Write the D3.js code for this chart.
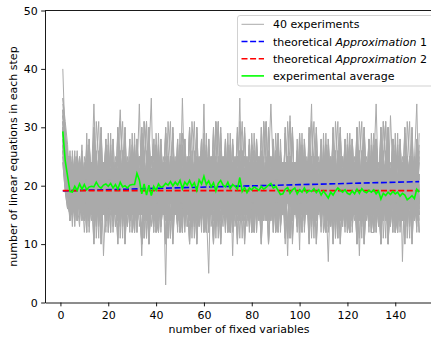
<!DOCTYPE html>
<html>
<head>
<meta charset="utf-8">
<script src="https://cdn.jsdelivr.net/npm/d3@7"></script>
<style>
  body { margin: 0; background: #fff; }
  svg text { font-family: "DejaVu Sans", sans-serif; }
</style>
</head>
<body>
<div id="chart"></div>
<script>
// tick labels
const xTicks = [0, 20, 40, 60, 80, 100, 120, 140];
const yTicks = [0, 10, 20, 30, 40, 50];

// theoretical curves (step, value)
const approx1Steps = [1, 25, 50, 75, 100, 125, 150];
const approx1Values = [19.12, 19.38, 19.65, 19.92, 20.18, 20.44, 20.7];
const approx2Steps = [1, 150];
const approx2Values = [19.15, 19.15];

// experimental average, steps 1..150
const averageValues = [
  29.3, 24.3, 21.6, 19.0, 18.9, 19.9, 19.2, 20.3, 19.4, 20.2,
  19.3, 19.8, 19.9, 19.8, 20.6, 19.9, 19.6, 20.1, 20.3, 19.9,
  20.4, 19.6, 20.2, 19.4, 20.6, 19.8, 20.0, 19.6, 20.1, 20.2,
  20.2, 22.1, 21.0, 18.6, 20.3, 18.4, 20.1, 18.3, 19.9, 19.2,
  20.3, 19.7, 19.9, 20.4, 20.1, 20.7, 20.0, 20.6, 20.1, 20.9,
  19.5, 20.6, 20.1, 20.9, 19.9, 20.5, 19.2, 21.0, 20.3, 21.6,
  20.2, 20.8, 19.8, 20.5, 19.1, 20.4, 20.9, 20.1, 19.8, 20.6,
  19.5, 20.2, 19.9, 19.4, 21.4, 19.0, 19.7, 18.8, 19.6, 19.3,
  19.8, 19.5, 19.2, 19.9, 19.4, 19.7, 20.1, 20.4, 19.6, 19.9,
  19.2, 18.5, 18.6, 19.4, 19.7, 18.7, 19.3, 19.6, 18.6, 19.3,
  18.9, 19.6, 18.8, 19.2, 19.0, 19.5, 18.8, 19.3, 18.4, 19.1,
  18.5, 17.9, 18.9, 18.4, 19.1, 19.6, 19.2, 18.9, 19.3, 18.7,
  18.5, 19.1, 18.6, 19.4, 18.7, 19.5, 19.0, 18.8, 19.2, 18.9,
  19.3, 18.6, 19.1, 17.7, 18.7, 18.3, 18.9, 18.5, 19.0, 18.6,
  18.9, 18.2, 18.7, 18.4, 17.6, 17.9, 18.3, 17.8, 19.4, 18.9
];

// 40 experiments, steps 1..150
const experiments = [
  [40,27,22,21,25,18,14,22,20,17, 22,17,20,24,15,19,26,18,21,16, 29,16,22,11,20,18,30,15,24,12, 24,18,21,15,19,23,17,20,27,16, 18,14,22,19,24,17,21,16,23,20, 21,25,17,20,13,22,18,24,19,15, 27,14,20,23,11,21,29,17,13,25, 23,16,19,22,18,26,15,21,17,20, 20,22,15,18,24,21,16,23,19,12, 15,19,24,17,22,20,18,16,25,21, 12,24,19,30,14,22,10,20,28,17, 18,24,21,14,20,17,23,19,22,16, 25,17,19,22,18,15,21,24,16,20, 15,28,18,10,24,31,16,21,12,26, 21,15,18,24,17,20,22,19,26,14],
  [35,30,24,21,15,18,25,20,16,22, 15,28,18,10,24,31,16,21,12,26, 20,17,22,16,23,19,14,21,24,18, 23,19,16,20,18,22,24,17,15,21, 17,22,20,15,25,18,21,16,23,19, 12,24,19,30,14,22,10,20,28,17, 22,17,20,24,15,19,26,18,21,16, 16,21,18,23,20,14,22,25,17,19, 24,18,21,15,19,23,17,20,27,16, 29,16,22,11,20,18,30,15,24,12, 21,25,17,20,13,22,18,24,19,15, 17,20,23,16,21,19,25,14,18,22, 27,14,20,23,11,21,29,17,13,25, 20,22,15,18,24,21,16,23,19,12, 15,19,24,17,22,20,18,16,25,21],
  [33,25,20,25,16,23,19,21,14,17, 18,24,21,34,20,17,23,19,22,16, 25,17,19,22,18,15,21,24,16,20, 16,20,23,19,21,24,17,13,22,18, 27,14,20,23,11,21,29,17,13,25, 19,23,17,21,15,18,25,20,16,22, 14,21,25,18,22,16,20,23,19,17, 29,16,22,11,20,18,30,15,24,12, 23,19,16,20,18,22,24,17,15,21, 17,22,20,15,25,18,21,16,23,19, 19,23,16,21,25,18,14,22,20,17, 15,28,18,10,24,31,16,21,12,26, 16,21,18,23,20,14,22,25,17,19, 24,18,21,15,19,23,17,20,27,16, 12,24,19,30,14,22,10,20,28,17],
  [31,22,19,20,13,22,18,24,19,15, 17,20,23,16,21,19,25,8,18,22, 23,16,19,22,18,26,15,21,17,20, 12,24,19,30,14,22,10,20,28,17, 15,19,24,17,22,20,18,16,25,21, 22,18,20,25,16,23,19,21,14,17, 18,24,21,14,20,17,23,19,22,16, 25,17,19,22,18,15,21,24,16,20, 15,28,18,10,24,31,16,21,12,26, 21,15,18,24,17,20,22,19,26,14, 19,23,17,21,15,18,25,20,16,22, 14,21,25,18,22,16,20,23,19,17, 29,16,22,11,20,18,30,15,24,12, 23,19,16,20,18,22,24,17,15,21, 17,22,20,15,25,18,21,16,23,19],
  [28,26,23,24,15,19,26,18,21,16, 24,18,21,15,19,23,17,20,27,16, 27,14,20,23,11,21,29,17,13,25, 23,16,19,22,18,26,15,21,17,20, 15,19,24,17,22,20,18,16,25,21, 18,24,21,14,20,17,23,19,22,16, 12,24,19,30,14,22,10,20,28,17, 19,23,17,21,15,18,25,20,16,22, 20,17,22,16,23,19,14,21,24,18, 17,22,20,15,25,18,21,16,23,19, 15,28,18,10,24,31,16,21,12,26, 16,21,18,23,20,14,22,25,17,19, 18,14,22,19,24,17,21,16,23,20, 29,16,22,11,20,18,30,15,24,12, 20,22,15,18,24,21,16,23,19,12],
  [30,24,21,24,17,20,22,19,26,14, 29,16,22,11,20,18,30,15,24,12, 22,18,20,25,33,23,19,21,14,17, 14,21,25,18,22,16,20,23,19,17, 23,19,16,20,18,22,24,17,15,21, 15,28,18,10,24,31,16,21,12,26, 16,21,18,23,20,14,22,25,17,19, 18,14,22,19,24,17,21,16,23,20, 17,20,23,16,21,19,25,14,18,22, 27,14,20,23,11,21,29,17,13,25, 18,24,21,14,20,17,23,19,22,16, 16,20,23,19,21,24,17,13,22,18, 12,24,19,30,14,22,10,20,28,17, 20,17,22,16,23,19,14,21,24,18, 17,22,20,15,25,18,21,16,23,19],
  [27,21,18,23,20,14,22,25,17,19, 21,25,17,20,13,22,18,24,19,15, 15,28,18,10,24,31,16,21,12,26, 18,24,21,8,20,17,23,19,22,16, 21,15,18,24,17,20,22,19,26,14, 20,17,22,16,23,19,14,21,24,18, 19,23,16,21,25,18,14,22,20,17, 12,24,19,30,14,22,10,20,28,17, 17,20,23,16,21,19,25,14,18,22, 15,19,24,17,22,20,18,16,25,21, 25,17,19,22,18,15,21,24,16,20, 27,14,20,23,11,21,29,17,13,25, 23,19,16,20,18,22,24,17,15,21, 22,17,20,24,15,19,26,18,21,16, 18,14,22,19,24,17,21,16,23,20],
  [32,28,25,22,18,26,15,21,17,20, 27,14,20,23,11,21,29,17,13,25, 16,20,23,19,21,24,17,13,22,18, 14,21,34,18,22,16,20,23,19,17, 17,22,20,15,25,18,21,16,23,19, 29,16,22,11,20,18,30,15,24,12, 21,25,17,20,13,22,18,24,19,15, 20,22,15,18,24,21,16,23,19,12, 18,24,21,14,20,17,23,34,22,16, 21,15,18,24,17,20,22,19,26,14, 20,17,22,16,23,19,14,21,24,18, 12,24,19,30,14,22,10,20,28,17, 15,28,18,10,24,31,16,21,12,26, 17,20,23,16,21,19,25,14,18,22, 15,19,24,17,22,20,18,16,25,21],
  [26,23,20,22,18,15,21,24,16,20, 19,23,17,21,15,18,25,20,16,22, 12,24,19,30,14,22,10,20,28,17, 22,17,20,24,15,19,26,18,21,16, 18,14,22,3,24,17,21,16,23,20, 23,16,19,22,18,26,15,21,17,20, 22,18,20,25,16,23,19,21,14,17, 27,14,20,23,11,21,29,17,13,25, 14,21,25,18,22,16,20,23,19,17, 17,22,20,15,25,18,21,16,23,19, 24,18,21,15,19,23,17,20,27,16, 29,16,22,11,20,18,30,15,24,12, 15,19,24,17,22,20,18,16,25,21, 19,23,16,21,25,18,14,22,20,17, 16,21,18,23,20,14,22,25,17,19],
  [29,25,22,16,23,19,14,21,24,18, 23,19,16,20,18,22,24,17,15,21, 17,22,20,15,25,18,21,16,23,19, 19,23,17,21,15,18,25,35,16,22, 15,28,18,10,24,31,16,21,12,26, 16,20,23,19,21,24,17,13,22,18, 21,15,18,24,17,20,22,19,26,14, 18,24,21,14,20,17,23,19,22,16, 29,16,22,11,20,18,30,15,24,12, 15,19,24,17,22,20,18,16,25,21, 27,14,20,23,11,21,29,17,13,25, 23,16,19,22,18,26,15,21,17,20, 20,22,15,18,24,21,16,23,19,12, 12,24,19,30,14,22,10,20,28,17, 17,20,23,16,21,19,25,14,18,22],
  [34,29,26,19,24,17,21,16,23,20, 24,18,21,15,19,23,17,20,27,16, 16,21,18,23,20,14,22,25,17,19, 27,14,20,23,11,21,29,17,13,25, 19,23,16,21,25,18,14,22,20,17, 35,19,24,17,22,20,18,16,25,21, 20,22,15,18,24,21,16,23,19,12, 23,16,19,22,18,26,15,21,17,20, 15,28,18,10,24,31,16,21,12,26, 21,25,17,20,13,22,18,24,19,15, 29,16,22,11,20,18,30,15,24,12, 16,20,23,19,21,24,17,13,22,18, 21,15,18,24,17,20,22,19,26,14, 18,24,21,14,20,17,23,19,22,16, 22,18,20,25,16,23,19,21,14,17],
  [25,20,17,15,25,18,21,16,23,19, 12,24,19,30,14,22,10,20,28,17, 20,17,22,16,23,19,14,21,24,18, 14,21,25,18,22,16,20,23,19,17, 29,16,22,11,20,18,30,15,24,12, 21,15,18,24,17,20,22,19,26,14, 16,5,23,19,21,24,17,13,22,18, 25,17,19,22,18,15,21,24,16,20, 18,24,21,14,20,17,23,19,22,16, 15,28,18,10,24,31,16,21,12,26, 15,19,24,17,22,20,18,16,25,21, 20,22,15,18,24,21,16,23,19,12, 23,16,19,22,18,26,15,21,17,20, 27,14,20,23,11,21,29,17,13,25, 21,25,17,20,13,22,18,24,19,15],
  [30,24,21,16,21,19,25,14,18,22, 19,23,16,21,25,18,14,22,20,17, 23,16,19,22,18,26,15,21,17,20, 15,28,18,10,24,31,16,21,12,26, 20,22,15,18,24,21,16,23,19,12, 16,21,18,23,20,14,22,25,17,34, 15,19,24,17,22,20,18,16,25,21, 24,18,21,15,19,23,17,20,27,16, 12,24,19,30,14,22,10,20,28,17, 18,14,22,19,24,17,21,16,23,20, 18,24,21,14,20,17,23,19,22,16, 21,25,17,20,13,22,18,24,19,15, 25,17,19,22,18,15,21,24,16,20, 16,20,23,19,21,24,17,13,22,18, 29,16,22,11,20,18,30,15,24,12],
  [28,22,19,18,22,16,20,23,19,17, 20,17,22,16,23,19,14,21,24,18, 19,23,17,21,15,18,25,20,16,22, 27,14,20,23,11,21,29,17,13,25, 23,19,16,20,18,22,24,17,15,21, 12,24,19,30,14,22,10,20,28,17, 19,23,16,21,25,18,14,22,20,17, 24,8,21,15,19,23,17,20,27,16, 16,21,18,23,20,14,22,25,17,19, 21,25,17,20,13,22,18,24,19,15, 18,14,22,19,24,17,21,16,23,20, 23,16,19,22,18,26,15,21,17,20, 17,20,23,16,21,19,25,14,18,22, 15,19,24,17,22,20,18,16,25,21, 15,28,18,10,24,31,16,21,12,26],
  [31,27,24,14,20,17,23,19,22,16, 22,18,20,25,16,23,19,21,14,17, 16,20,23,19,21,24,17,13,22,18, 15,28,18,10,24,31,16,21,12,26, 19,23,17,21,15,18,25,20,16,22, 21,15,18,24,17,20,22,19,26,14, 20,17,22,16,23,19,14,21,24,18, 14,21,25,18,35,16,20,23,19,17, 17,22,20,15,25,18,21,16,23,19, 27,14,20,23,11,21,29,17,13,25, 18,14,22,19,24,17,21,16,23,20, 24,18,21,15,19,23,17,20,27,16, 12,24,19,30,14,22,10,20,28,17, 22,17,20,24,15,19,26,18,21,16, 19,23,16,21,25,18,14,22,20,17],
  [27,23,20,15,19,23,17,20,27,16, 23,16,19,22,18,26,15,21,17,20, 18,24,21,14,20,17,23,19,22,16, 29,16,22,11,20,18,30,15,24,12, 17,22,20,15,25,18,21,16,23,19, 16,21,18,23,20,14,22,25,17,19, 15,28,18,10,24,31,16,21,12,26, 22,18,20,25,16,23,19,21,14,17, 21,15,18,24,17,20,22,19,26,14, 23,19,16,20,8,22,24,17,15,21, 22,17,20,24,15,19,26,18,21,16, 27,14,20,23,11,21,29,17,13,25, 15,19,24,17,22,20,18,16,25,21, 16,20,23,19,21,24,17,13,22,18, 20,17,22,16,23,19,14,21,24,18],
  [33,26,23,18,24,21,16,23,19,12, 18,14,22,19,24,17,21,16,23,20, 19,23,16,21,25,18,14,22,20,17, 14,21,25,18,22,16,20,23,19,17, 12,24,19,30,14,22,10,20,28,17, 21,25,17,20,13,22,18,24,19,15, 29,16,22,11,20,18,30,15,24,12, 16,20,23,19,21,24,17,13,22,18, 22,17,20,24,15,19,26,18,21,16, 15,19,24,17,22,20,18,16,25,21, 16,21,18,23,34,14,22,25,17,19, 21,15,18,24,17,20,22,19,26,14, 22,18,20,25,16,23,19,21,14,17, 15,28,18,10,24,31,16,21,12,26, 17,20,23,16,21,19,25,14,18,22],
  [24,19,16,19,21,24,17,13,22,18, 15,19,24,17,22,20,18,16,25,21, 21,25,17,20,13,22,18,24,19,15, 22,17,20,24,15,19,26,18,21,16, 27,14,20,23,11,21,29,17,13,25, 21,15,18,24,17,20,22,19,26,14, 15,28,18,10,24,31,16,21,12,26, 17,20,23,16,21,19,25,14,18,22, 16,21,18,23,20,14,22,25,17,19, 29,16,22,11,20,18,30,15,24,12, 19,23,17,21,15,18,25,20,16,22, 18,7,21,14,20,17,23,19,22,16, 23,16,19,22,18,26,15,21,17,20, 12,24,19,30,14,22,10,20,28,17, 17,22,20,15,25,18,21,16,23,19],
  [29,25,22,20,18,22,24,17,15,21, 21,15,18,24,17,20,22,19,26,14, 22,18,20,25,16,23,19,21,14,17, 12,24,19,30,14,22,10,20,28,17, 16,21,18,23,20,14,22,25,17,19, 27,14,20,23,11,21,29,17,13,25, 25,17,19,22,18,15,21,24,16,20, 20,22,15,18,24,21,16,23,19,12, 18,14,22,19,24,17,21,16,23,20, 19,23,16,21,25,18,14,22,20,17, 17,22,20,15,25,18,21,16,23,19, 19,23,17,21,15,18,25,20,16,22, 18,24,21,14,20,17,23,19,22,16, 23,34,19,22,18,26,15,21,17,20, 24,18,21,15,19,23,17,20,27,16],
  [30,24,21,17,22,20,18,16,25,21, 17,22,20,15,25,18,21,16,23,19, 18,14,22,19,24,17,21,16,23,20, 21,15,18,24,17,20,22,19,26,14, 24,18,21,15,19,23,17,20,27,16, 16,20,23,19,21,24,17,13,22,18, 16,21,18,23,20,14,22,25,17,19, 15,28,18,10,24,31,16,21,12,26, 25,17,19,22,18,15,21,24,16,20, 18,24,21,14,20,17,23,19,22,16, 19,23,16,21,25,18,14,22,20,17, 22,18,20,25,16,23,19,21,14,17, 21,25,17,20,8,22,18,24,19,15, 19,23,17,21,15,18,25,20,16,22, 27,14,20,23,11,21,29,17,13,25],
  [26,21,18,14,18,25,21,16,23,19, 16,21,18,26,19,15,24,20,17,22, 12,24,15,30,18,20,11,22,16,29, 16,27,20,17,23,19,15,21,18,24, 20,23,16,21,17,24,19,22,14,18, 15,19,24,18,22,13,20,17,25,21, 25,13,17,29,21,11,23,20,14,27, 20,17,21,15,26,18,22,19,16,23, 12,19,23,16,21,24,18,15,22,20, 21,25,16,18,20,22,17,24,19,15, 17,28,20,10,22,14,30,19,24,12, 16,22,19,23,17,20,14,21,24,18, 20,16,24,21,15,18,22,19,17,25, 26,12,21,16,31,24,10,18,28,15, 14,26,7,22,20,17,24,18,15,21],
  [32,28,25,25,18,15,21,17,23,19, 26,12,21,16,31,24,10,18,28,15, 18,24,21,14,19,23,16,22,17,20, 21,15,17,24,22,18,20,16,19,23, 19,23,16,21,18,25,15,20,22,17, 17,28,20,10,22,14,30,19,24,12, 16,21,18,26,19,15,24,20,17,22, 19,17,25,22,14,20,23,18,21,16, 16,27,20,17,23,19,15,21,18,24, 12,24,15,30,18,20,11,22,16,29, 15,19,24,18,22,13,20,17,25,21, 22,18,14,25,19,21,16,23,20,17, 25,13,17,29,21,11,23,20,14,27, 12,19,23,16,21,24,18,32,22,20, 21,25,16,18,20,22,17,24,34,15],
  [28,23,20,19,23,16,25,20,18,22, 16,22,19,23,17,20,14,21,24,18, 20,16,24,21,15,18,22,19,17,25, 18,22,13,17,24,21,19,23,20,16, 25,13,17,29,21,11,23,20,14,27, 22,16,20,25,18,15,21,17,23,19, 17,19,23,20,16,22,18,25,21,14, 12,24,15,30,18,20,11,22,16,29, 21,15,17,24,22,18,20,16,19,23, 19,23,16,21,18,25,15,20,22,17, 17,20,22,14,18,25,21,16,23,19, 26,12,21,16,31,24,10,18,28,15, 19,17,25,22,14,20,23,18,21,16, 16,27,20,17,23,19,15,21,18,24, 17,28,20,10,22,14,30,19,24,12],
  [35,31,27,18,22,13,20,17,25,21, 22,18,14,25,19,21,16,23,20,17, 20,17,21,15,26,18,22,19,16,23, 17,28,20,10,22,14,30,19,24,12, 21,25,16,18,20,22,17,24,19,15, 17,14,21,19,23,16,25,20,18,22, 16,22,19,23,17,20,14,21,24,18, 20,16,24,21,15,18,22,19,17,25, 26,12,21,16,31,24,10,18,28,15, 14,26,19,22,20,17,24,18,15,21, 22,16,20,25,18,15,21,17,23,19, 17,19,23,20,16,22,18,25,21,14, 12,24,15,30,18,20,11,22,16,29, 21,15,17,24,22,18,20,16,19,23, 19,23,16,21,18,25,15,20,22,17],
  [27,22,19,26,19,15,24,20,17,22, 16,27,20,17,23,19,15,21,18,24, 25,13,17,29,21,11,23,20,14,27, 20,17,21,15,26,18,22,19,16,23, 21,25,16,18,20,22,17,24,19,15, 16,22,19,23,17,20,14,21,24,18, 17,28,20,10,22,14,30,19,24,12, 22,16,20,25,18,15,21,17,23,19, 18,24,21,14,19,23,16,22,17,20, 19,23,16,21,18,25,15,20,22,9, 26,12,21,16,31,24,10,18,28,15, 19,17,25,22,14,20,23,18,21,16, 20,23,16,21,17,24,19,22,14,18, 12,24,15,30,18,20,11,22,16,29, 12,19,23,16,21,24,18,15,22,20],
  [29,24,21,22,20,17,24,18,15,21, 12,24,15,30,18,20,11,22,16,29, 17,14,21,19,23,16,25,20,18,22, 17,19,23,20,16,22,18,25,21,14, 21,15,17,24,22,18,20,16,19,23, 26,12,21,16,31,24,10,18,28,15, 19,17,25,22,14,20,23,18,21,16, 20,23,16,21,17,24,19,22,14,18, 22,18,14,25,19,21,16,23,20,17, 25,13,17,29,21,11,23,20,14,27, 16,22,19,23,17,20,14,21,24,18, 18,22,13,17,24,21,19,23,20,16, 17,28,20,10,22,14,30,19,24,12, 18,24,21,14,19,23,16,22,17,20, 19,23,16,21,18,25,15,20,22,17],
  [31,26,23,22,14,20,23,18,21,16, 15,19,24,18,22,13,20,17,25,21, 26,12,21,16,31,24,10,18,28,15, 16,22,19,23,17,20,14,21,24,18, 14,26,19,22,20,17,24,18,15,21, 18,24,21,14,19,23,16,22,17,20, 17,20,22,14,18,25,21,16,23,19, 17,28,20,10,22,14,30,19,24,12, 22,18,14,25,19,21,16,23,20,17, 21,25,16,18,20,22,17,24,19,15, 20,16,24,21,15,18,22,19,17,25, 25,13,17,29,21,11,23,20,14,27, 21,15,17,24,22,18,20,16,19,23, 16,21,18,26,19,15,24,20,17,22, 20,23,16,21,17,24,19,22,14,18],
  [25,20,17,15,26,18,22,19,16,23, 25,13,17,29,21,11,23,20,14,27, 18,22,13,17,24,21,19,23,20,16, 17,19,23,20,16,22,18,25,21,14, 19,23,16,21,18,25,15,20,22,17, 12,24,15,30,18,20,11,22,16,29, 15,19,24,18,22,13,20,17,25,21, 12,19,23,16,21,24,18,15,22,20, 16,22,19,23,17,20,14,21,24,18, 14,26,19,22,20,17,24,18,15,21, 18,24,21,14,19,23,16,22,17,20, 17,28,20,10,22,14,30,19,24,12, 26,12,21,16,31,24,10,18,28,15, 22,18,14,25,19,21,16,23,20,17, 21,25,16,18,20,22,17,24,19,15],
  [30,25,22,21,15,18,22,19,17,25, 22,16,20,25,18,15,21,17,23,19, 17,28,20,10,22,14,30,19,24,12, 16,21,18,26,19,15,24,20,17,22, 20,23,16,21,17,24,19,22,14,18, 20,17,21,15,26,18,22,19,16,23, 17,14,21,19,23,16,25,20,18,22, 25,13,17,29,21,11,23,20,14,27, 17,19,23,20,16,22,18,25,21,14, 19,23,16,21,18,25,15,20,22,17, 16,27,20,17,23,19,15,21,18,24, 12,24,15,30,18,20,11,22,16,29, 21,25,16,18,20,22,17,24,19,15, 17,20,22,14,18,25,21,16,23,19, 19,17,25,22,14,20,23,18,21,16],
  [28,23,20,14,19,23,16,22,17,20, 21,15,17,24,22,18,20,16,19,23, 19,23,16,21,18,25,15,20,22,17, 22,16,20,25,18,15,21,17,23,19, 26,12,21,16,31,24,10,18,28,15, 18,22,13,17,24,21,19,23,20,16, 14,26,19,22,20,17,24,18,15,21, 16,22,19,23,17,20,14,21,24,18, 12,24,15,30,18,20,11,22,16,29, 21,25,16,18,20,22,17,24,19,15, 25,13,17,29,21,11,23,20,14,27, 20,17,21,15,26,18,22,19,16,23, 12,19,23,16,21,24,18,15,22,20, 17,28,20,10,22,14,30,19,24,12, 22,18,14,25,19,21,16,23,20,17],
  [33,27,24,21,17,24,19,22,14,18, 16,27,20,17,23,19,15,21,18,24, 19,17,25,22,14,20,23,18,21,16, 25,13,17,29,21,11,23,20,14,27, 17,20,22,14,18,25,21,16,23,19, 21,25,16,18,20,22,17,24,19,15, 12,19,23,16,21,24,18,15,22,20, 20,17,21,15,26,18,22,19,16,23, 26,12,21,16,31,24,10,18,28,15, 15,19,24,18,22,32,20,17,25,21, 12,24,15,30,18,20,11,22,16,29, 18,22,13,17,24,21,19,23,20,16, 14,26,19,22,20,17,24,18,15,21, 16,22,19,23,17,20,14,21,24,18, 17,14,21,19,23,16,25,20,18,22],
  [26,21,18,21,18,25,15,20,22,17, 17,28,20,10,22,14,30,19,24,12, 18,24,21,14,19,23,16,22,17,20, 17,19,23,20,16,22,18,25,21,14, 12,24,15,30,18,20,11,22,16,29, 14,26,19,22,20,17,24,18,15,21, 18,22,13,17,24,21,19,23,20,16, 20,16,24,21,15,18,22,19,17,25, 16,22,19,23,17,20,14,21,24,18, 26,12,21,16,31,24,10,18,28,15, 21,25,16,18,20,22,17,24,19,15, 12,19,23,16,21,24,18,15,22,20, 20,17,21,15,26,18,22,19,16,23, 25,13,17,29,21,11,23,20,14,27, 15,19,24,18,22,13,20,17,25,21],
  [29,24,21,25,19,21,16,23,20,17, 17,20,22,14,18,25,21,16,23,19, 20,17,21,15,26,18,22,19,16,23, 26,12,21,16,31,24,10,18,28,15, 12,19,23,16,21,24,18,15,22,20, 19,17,25,22,14,20,23,18,21,16, 21,25,16,18,20,22,17,24,19,15, 16,27,20,17,23,19,15,21,18,24, 17,28,20,10,22,14,30,19,24,12, 20,23,16,21,17,24,19,22,14,18, 16,22,19,23,17,20,14,21,24,18, 15,19,24,18,22,13,20,17,25,21, 20,16,24,21,15,18,22,19,17,25, 18,22,13,17,24,21,19,23,20,16, 12,24,15,30,18,20,11,22,16,29],
  [27,22,19,20,16,22,18,25,21,14, 18,24,21,14,19,23,16,22,17,20, 22,16,20,25,18,15,21,17,23,19, 25,13,17,29,21,11,23,20,14,27, 21,15,17,24,22,18,20,16,19,23, 17,28,20,10,22,14,30,19,24,12, 17,20,22,14,18,25,21,16,23,19, 16,27,20,17,23,19,15,21,18,24, 19,17,25,22,14,20,23,18,21,16, 15,19,24,18,22,13,20,17,25,21, 20,23,16,21,17,24,19,22,14,18, 20,17,21,15,26,18,22,19,16,23, 22,18,14,25,19,21,16,23,20,17, 21,25,16,18,20,22,17,24,19,15, 26,12,21,16,31,24,10,18,28,15],
  [31,26,23,23,17,20,14,21,24,18, 17,14,21,19,23,16,25,20,18,22, 18,22,13,17,24,21,19,23,20,16, 26,12,21,16,31,24,10,18,28,15, 22,16,20,25,18,15,21,17,23,19, 14,26,19,22,20,17,24,18,15,21, 18,24,21,14,19,23,16,22,17,20, 17,19,23,20,16,22,18,25,21,14, 19,23,16,21,18,25,15,20,22,17, 25,13,17,29,21,11,23,20,14,27, 20,23,16,21,17,24,19,22,14,18, 16,27,20,17,23,19,15,21,18,24, 17,28,20,10,22,14,30,19,24,12, 16,21,18,26,19,15,24,20,17,22, 17,20,22,14,18,25,21,16,23,19],
  [24,19,16,17,23,19,15,21,18,24, 20,17,21,15,26,18,22,19,16,23, 16,22,19,23,17,20,14,21,24,18, 12,24,15,30,18,20,11,22,16,29, 19,23,16,21,18,25,15,20,22,17, 19,17,25,22,14,20,23,18,21,16, 26,12,21,16,31,24,10,18,28,15, 17,14,21,19,23,16,25,20,18,22, 14,26,19,22,20,17,24,18,15,21, 21,15,17,24,22,18,20,16,19,23, 16,21,18,26,19,15,24,20,17,22, 25,13,17,29,21,11,23,20,14,27, 21,25,16,18,20,22,17,24,19,15, 18,22,13,17,24,21,19,23,20,16, 18,24,21,14,19,23,16,22,17,20],
  [30,25,22,16,21,24,18,15,22,20, 20,23,16,21,17,24,19,22,14,18, 17,20,22,14,18,25,21,16,23,19, 17,19,23,20,16,22,18,25,21,14, 17,28,20,10,22,14,30,19,24,12, 15,19,24,18,22,13,20,17,25,21, 12,24,15,30,18,20,11,22,16,29, 18,22,13,17,24,21,19,23,20,16, 16,21,18,26,19,15,24,20,17,22, 21,25,16,18,20,22,17,24,19,15, 19,17,25,22,14,20,23,18,21,16, 14,26,19,22,20,17,24,18,15,21, 17,14,21,19,23,16,25,20,18,22, 26,12,21,16,31,24,10,18,28,15, 22,18,14,25,19,21,16,23,20,17],
  [28,23,20,17,24,21,19,23,20,16, 21,25,16,18,20,22,17,24,19,15, 15,19,24,18,22,13,20,17,25,21, 16,21,18,26,19,15,24,20,17,22, 25,13,17,29,21,11,23,20,14,27, 14,26,19,22,20,17,24,18,15,21, 26,12,21,16,31,24,10,18,28,15, 22,18,14,25,19,21,16,23,20,17, 19,17,25,22,14,20,23,18,21,16, 12,24,15,30,18,20,11,22,16,29, 22,16,20,25,18,15,21,17,23,19, 16,22,19,23,17,20,14,21,24,18, 20,17,21,15,26,18,22,19,16,23, 17,28,20,10,22,14,30,19,24,12, 19,23,16,21,18,25,15,20,22,17],
  [32,28,25,24,22,18,20,16,19,23, 14,26,19,22,20,17,24,18,15,21, 17,14,21,19,23,16,25,20,18,22, 17,28,20,10,22,14,30,19,24,12, 19,17,25,22,14,20,23,18,21,16, 25,13,17,29,21,11,23,20,14,27, 20,16,24,21,15,18,22,19,17,25, 12,19,23,16,21,24,18,15,22,20, 20,23,16,21,17,24,19,22,14,18, 17,20,22,14,18,25,21,16,23,19, 19,23,16,21,18,25,15,20,22,17, 22,16,20,25,18,15,21,17,23,19, 16,22,19,23,17,20,14,21,24,18, 20,17,21,15,26,18,22,19,16,23, 16,27,20,17,23,19,15,21,18,24],
  [26,21,18,18,20,22,17,24,19,15, 19,23,16,21,18,25,15,20,22,17, 20,23,16,21,17,24,19,22,14,18, 14,26,19,22,20,17,24,18,15,21, 16,27,20,17,23,19,15,21,18,24, 18,22,13,17,24,21,19,23,20,16, 19,17,25,22,14,20,23,18,21,16, 26,12,21,16,31,24,10,18,28,15, 20,16,24,21,15,18,22,19,17,25, 16,22,19,23,17,20,14,21,24,18, 17,20,22,14,18,25,21,16,23,19, 17,14,21,19,23,16,25,20,18,22, 15,19,24,18,22,13,20,17,25,21, 22,16,20,25,18,15,21,17,23,19, 25,13,17,29,21,11,23,20,14,27]
];

const width = 431, height = 337;
const plotLeft = 45, plotRight = 437, plotTop = 10.5, plotBottom = 302.5;
const fontSize = 11;

const svg = d3.select("#chart")
  .append("svg")
  .attr("width", width)
  .attr("height", height)
  .style("background", "#fff");

const x = d3.scaleLinear().domain([-6.45, 157.45]).range([plotLeft, plotRight]);
const y = d3.scaleLinear().domain([0, 50]).range([plotBottom, plotTop]);

svg.append("clipPath")
  .attr("id", "plot-area")
  .append("rect")
  .attr("x", plotLeft)
  .attr("y", plotTop)
  .attr("width", plotRight - plotLeft)
  .attr("height", plotBottom - plotTop);

const line = d3.line()
  .x(d => x(d[0]))
  .y(d => y(d[1]));

const plot = svg.append("g").attr("clip-path", "url(#plot-area)");

// grey experiment lines
plot.selectAll(".experiment")
  .data(experiments)
  .join("path")
  .attr("class", "experiment")
  .attr("d", row => line(row.map((v, i) => [i + 1, v])))
  .attr("fill", "none")
  .attr("stroke", "#aaaaaa")
  .attr("stroke-width", 1);

// theoretical approximations
plot.append("path")
  .attr("d", line(approx1Steps.map((s, i) => [s, approx1Values[i]])))
  .attr("fill", "none")
  .attr("stroke", "#0000ff")
  .attr("stroke-width", 1.6)
  .attr("stroke-dasharray", "6,2.6");

plot.append("path")
  .attr("d", line(approx2Steps.map((s, i) => [s, approx2Values[i]])))
  .attr("fill", "none")
  .attr("stroke", "#ff0000")
  .attr("stroke-width", 1.6)
  .attr("stroke-dasharray", "6,2.6");

// experimental average
plot.append("path")
  .attr("d", line(averageValues.map((v, i) => [i + 1, v])))
  .attr("fill", "none")
  .attr("stroke", "#00ff00")
  .attr("stroke-width", 1.6);

// axes
const xAxis = svg.append("g")
  .attr("transform", `translate(0,${plotBottom})`)
  .call(d3.axisBottom(x).tickValues(xTicks).tickSize(3.85).tickSizeOuter(0).tickPadding(4.5));

const yAxis = svg.append("g")
  .attr("transform", `translate(${plotLeft},0)`)
  .call(d3.axisLeft(y).tickValues(yTicks).tickSize(3.85).tickSizeOuter(0).tickPadding(3.5));

[xAxis, yAxis].forEach(g => {
  g.attr("font-size", fontSize).attr("font-family", "DejaVu Sans, sans-serif");
  g.selectAll("text").attr("fill", "#000");
  g.selectAll("line").attr("stroke", "#000").attr("stroke-width", 0.9);
  g.select(".domain").attr("stroke", "#000").attr("stroke-width", 0.9);
});

// top spine
svg.append("line")
  .attr("x1", plotLeft).attr("x2", plotRight)
  .attr("y1", plotTop).attr("y2", plotTop)
  .attr("stroke", "#000").attr("stroke-width", 0.9);

// axis labels
svg.append("text")
  .attr("x", (plotLeft + plotRight) / 2 - 2)
  .attr("y", 333)
  .attr("text-anchor", "middle")
  .attr("font-size", fontSize)
  .text("number of fixed variables");

svg.append("text")
  .attr("transform", `translate(17,${(plotTop + plotBottom) / 2}) rotate(-90)`)
  .attr("text-anchor", "middle")
  .attr("font-size", fontSize)
  .text("number of linear equations in each step");

// legend
const legend = svg.append("g");
legend.append("rect")
  .attr("x", 237.5).attr("y", 15.5)
  .attr("width", 197).attr("height", 70.5)
  .attr("rx", 2.5)
  .attr("fill", "#fff").attr("fill-opacity", 0.8)
  .attr("stroke", "#cccccc").attr("stroke-width", 0.9);

const legendItems = [
  { color: "#aaaaaa", dash: null, width: 1, parts: [["40 experiments", false]] },
  { color: "#0000ff", dash: "6,2.6", width: 1.6, parts: [["theoretical ", false], ["Approximation", true], [" 1", false]] },
  { color: "#ff0000", dash: "6,2.6", width: 1.6, parts: [["theoretical ", false], ["Approximation", true], [" 2", false]] },
  { color: "#00ff00", dash: null, width: 1.6, parts: [["experimental average", false]] }
];

legendItems.forEach((item, i) => {
  const ly = 24.3 + i * 17.2;
  legend.append("line")
    .attr("x1", 241.5).attr("x2", 264)
    .attr("y1", ly).attr("y2", ly)
    .attr("stroke", item.color)
    .attr("stroke-width", item.width)
    .attr("stroke-dasharray", item.dash);
  const t = legend.append("text")
    .attr("x", 273)
    .attr("y", ly + 4)
    .attr("font-size", fontSize);
  item.parts.forEach(p => {
    t.append("tspan").attr("font-style", p[1] ? "italic" : "normal").text(p[0]);
  });
});
</script>
</body>
</html>
